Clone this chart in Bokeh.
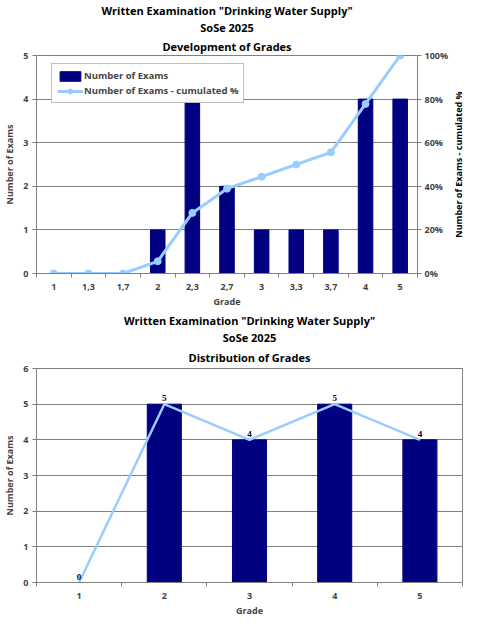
import math
from bokeh.plotting import figure
from bokeh.layouts import column
from bokeh.models import (ColumnDataSource, FixedTicker, LinearAxis, Range1d, Label,
                          Title, Legend, LegendItem, PrintfTickFormatter, LabelSet)
from bokeh.embed import file_html
from bokeh.resources import INLINE

# chart 1 - development of grades
dev_grades = ["1", "1,3", "1,7", "2", "2,3", "2,7", "3", "3,3", "3,7", "4", "5"]
dev_counts = [0, 0, 0, 1, 4, 2, 1, 1, 1, 4, 4]
dev_cum_pct = [0, 0, 0, 5.6, 27.8, 38.9, 44.4, 50.0, 55.6, 77.8, 100]

# chart 2 - distribution of grades
dist_grades = ["1", "2", "3", "4", "5"]
dist_counts = [0, 5, 4, 5, 4]

TITLE_1 = 'Written Examination "Drinking Water Supply"'
TITLE_2 = "SoSe 2025"
BAR = "#000080"
LINE = "#99ccff"
GREY = "#808080"
FONT = "Open Sans"


def add_titles(p, lines, gap):
    # first added sits closest to the plot
    for k, t in enumerate(reversed(lines)):
        p.add_layout(Title(text=t, align="center", text_font=FONT, text_font_size="11px",
                           text_font_style="bold", text_color="black",
                           standoff=gap if k == 0 else 0, offset=0), "above")


def style_axis(ax, label):
    ax.axis_label = label
    ax.axis_label_text_font = FONT
    ax.axis_label_text_font_size = "9px"
    ax.axis_label_text_font_style = "bold"
    ax.axis_label_standoff = 4
    ax.major_label_text_font = FONT
    ax.major_label_text_font_size = "9px"
    ax.major_label_text_font_style = "bold"
    ax.major_label_standoff = 4
    ax.axis_line_color = GREY
    ax.major_tick_line_color = GREY
    ax.major_tick_in = 0
    ax.major_tick_out = 4
    ax.minor_tick_line_color = None


def cat_axis(p, labels, label):
    n = len(labels)
    ax = p.xaxis[0]
    ax.ticker = FixedTicker(ticks=[i + 0.5 for i in range(n)],
                            minor_ticks=list(range(n + 1)))
    ax.major_label_overrides = {i + 0.5: s for i, s in enumerate(labels)}
    style_axis(ax, label)
    ax.major_label_standoff = 6
    ax.axis_label_standoff = 2
    ax.major_tick_line_color = None
    ax.minor_tick_line_color = GREY
    ax.minor_tick_in = 0
    ax.minor_tick_out = 4


# ---------- top chart ----------
n1 = len(dev_grades)
src1 = ColumnDataSource(dict(x=[i + 0.5 for i in range(n1)], cnt=dev_counts, pct=dev_cum_pct))

p1 = figure(width=464, frame_height=218, output_backend="svg", toolbar_location=None,
            x_range=Range1d(0, n1), y_range=Range1d(0, 5),
            min_border_left=31, min_border_right=0, min_border_top=0, min_border_bottom=2)
p1.frame_align = False
p1.extra_y_ranges = {"pct": Range1d(0, 100)}
add_titles(p1, [TITLE_1, TITLE_2, "Development of Grades"], 4)

cat_axis(p1, dev_grades, "Grade")
p1.yaxis.ticker = FixedTicker(ticks=[0, 1, 2, 3, 4, 5])
style_axis(p1.yaxis[0], "Number of Exams")

rax = LinearAxis(y_range_name="pct", ticker=FixedTicker(ticks=[0, 20, 40, 60, 80, 100]),
                 formatter=PrintfTickFormatter(format="%d%%"))
style_axis(rax, None)
rax.major_label_standoff = 3
rax.axis_label_standoff = 0
p1.add_layout(rax, "right")
# right axis title, reading bottom to top
p1.add_layout(Label(x=n1, y=2.5, x_offset=41, text="Number of Exams - cumulated %",
                    angle=math.pi / 2, text_align="center", text_baseline="middle",
                    text_font=FONT, text_font_size="9px", text_font_style="bold",
                    text_color="black"), "right")

p1.xgrid.grid_line_color = None
p1.ygrid.grid_line_color = GREY
p1.ygrid.ticker = FixedTicker(ticks=[1, 2, 3, 4])
p1.outline_line_color = GREY

bars1 = p1.vbar(x="x", top="cnt", width=0.42, source=src1, color=BAR)
ln1 = p1.line("x", "pct", source=src1, y_range_name="pct", line_color=LINE, line_width=3)
mk1 = p1.scatter("x", "pct", source=src1, y_range_name="pct", size=7,
                 fill_color=LINE, line_color=LINE)

leg = Legend(items=[LegendItem(label="Number of Exams", renderers=[bars1]),
                    LegendItem(label="Number of Exams - cumulated %", renderers=[ln1, mk1])],
             location=(15, 170))
leg.label_text_font = FONT
leg.label_text_font_size = "9.5px"
leg.label_text_font_style = "bold"
leg.border_line_color = GREY
leg.padding = 5
leg.spacing = 2
leg.glyph_width = 26
leg.glyph_height = 12
leg.label_height = 12
leg.label_standoff = 1
leg.margin = 0
p1.add_layout(leg, "center")

# ---------- bottom chart ----------
n2 = len(dist_grades)
src2 = ColumnDataSource(dict(x=[i + 0.5 for i in range(n2)], cnt=dist_counts,
                             lab=[str(c) for c in dist_counts]))

p2 = figure(width=464, frame_height=214, output_backend="svg", toolbar_location=None,
            x_range=Range1d(0, n2), y_range=Range1d(0, 6),
            min_border_left=31, min_border_right=2, min_border_top=0, min_border_bottom=2)
p2.frame_align = False
add_titles(p2, [TITLE_1, TITLE_2, "Distribution of Grades"], 7)

cat_axis(p2, dist_grades, "Grade")
p2.yaxis.ticker = FixedTicker(ticks=[0, 1, 2, 3, 4, 5, 6])
style_axis(p2.yaxis[0], "Number of Exams")

p2.xgrid.grid_line_color = None
p2.ygrid.grid_line_color = GREY
p2.ygrid.ticker = FixedTicker(ticks=[1, 2, 3, 4, 5])
p2.outline_line_color = GREY

p2.vbar(x="x", top="cnt", width=0.4, source=src2, color=BAR)
p2.line("x", "cnt", source=src2, line_color=LINE, line_width=2.5)
p2.add_layout(LabelSet(x="x", y="cnt", text="lab", source=src2, y_offset=3,
                       text_align="center", text_font=FONT, text_font_size="9px",
                       text_font_style="bold", text_color="black"))

page = column(p1, p2, spacing=0)
open("out.html", "w").write(file_html(page, INLINE))
